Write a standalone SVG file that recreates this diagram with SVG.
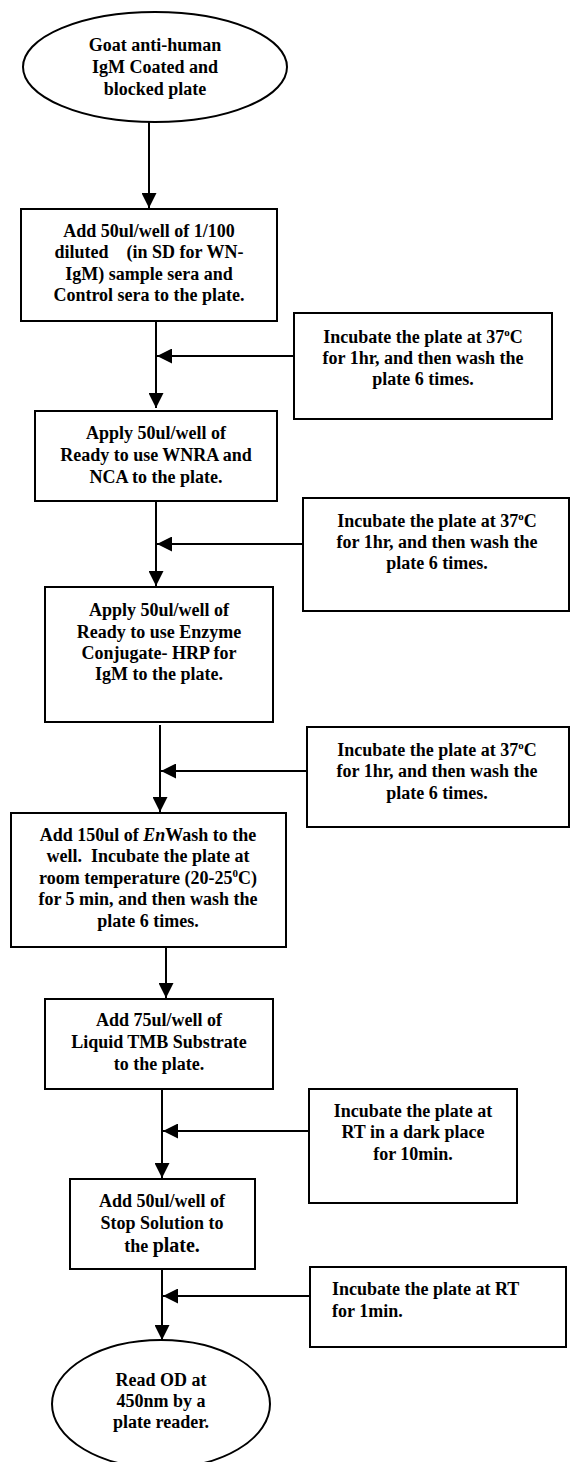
<svg xmlns="http://www.w3.org/2000/svg" width="570" height="1462" viewBox="0 0 570 1462">
<defs>
<style>
.shape{fill:#fff;stroke:#000;stroke-width:2}
.t{font-family:"Liberation Serif","Times New Roman",serif;font-weight:bold;font-size:18px;fill:#000;text-anchor:middle}
.l{text-anchor:start}
.c{stroke:#000;stroke-width:2;fill:none;marker-end:url(#ah)}
</style>
<marker id="ah" markerUnits="userSpaceOnUse" markerWidth="16" markerHeight="15" refX="15" refY="7.5" orient="auto">
<path d="M0,0 L15,7.5 L0,15 z" fill="#000"/>
</marker>
</defs>
<rect width="570" height="1462" fill="#fff"/>
<g id="connectors">
<path class="c" d="M149,122 V208"/>
<path class="c" d="M156,321 V408"/>
<path class="c" d="M294,356 H157"/>
<path class="c" d="M156,501 V586"/>
<path class="c" d="M303,544 H157"/>
<path class="c" d="M160,725 V812"/>
<path class="c" d="M307,771 H161"/>
<path class="c" d="M166,947 V998"/>
<path class="c" d="M162,1089 V1178"/>
<path class="c" d="M309,1131 H163"/>
<path class="c" d="M162,1269 V1340"/>
<path class="c" d="M310,1296 H163"/>
</g>
<g id="start">
<ellipse class="shape" cx="155" cy="67" rx="132" ry="55"/>
<text class="t" x="155" y="51">Goat anti-human</text>
<text class="t" x="155" y="73">IgM Coated and</text>
<text class="t" x="155" y="95">blocked plate</text>
</g>
<g id="step1">
<rect class="shape" x="21" y="209" width="256" height="112"/>
<text class="t" x="149" y="237">Add 50ul/well of 1/100</text>
<text class="t" x="149" y="258" xml:space="preserve">diluted    (in SD for WN-</text>
<text class="t" x="149" y="280">IgM) sample sera and</text>
<text class="t" x="149" y="301">Control sera to the plate.</text>
</g>
<g id="incubate1">
<rect class="shape" x="294" y="313" width="258" height="106"/>
<text class="t" x="423" y="343">Incubate the plate at 37<tspan dy="-7" font-size="11">o</tspan><tspan dy="7">C</tspan></text>
<text class="t" x="423" y="364">for 1hr, and then wash the</text>
<text class="t" x="423" y="385">plate 6 times.</text>
</g>
<g id="step2">
<rect class="shape" x="35" y="411" width="242" height="90"/>
<text class="t" x="156" y="439">Apply 50ul/well of</text>
<text class="t" x="156" y="461">Ready to use WNRA and</text>
<text class="t" x="156" y="483">NCA to the plate.</text>
</g>
<g id="incubate2">
<rect class="shape" x="303" y="498" width="266" height="113"/>
<text class="t" x="437" y="527">Incubate the plate at 37<tspan dy="-7" font-size="11">o</tspan><tspan dy="7">C</tspan></text>
<text class="t" x="437" y="548">for 1hr, and then wash the</text>
<text class="t" x="437" y="569">plate 6 times.</text>
</g>
<g id="step3">
<rect class="shape" x="45" y="587" width="228" height="135"/>
<text class="t" x="159" y="616">Apply 50ul/well of</text>
<text class="t" x="159" y="638">Ready to use Enzyme</text>
<text class="t" x="159" y="659">Conjugate- HRP for</text>
<text class="t" x="159" y="680">IgM to the plate.</text>
</g>
<g id="incubate3">
<rect class="shape" x="307" y="727" width="262" height="100"/>
<text class="t" x="437" y="756">Incubate the plate at 37<tspan dy="-7" font-size="11">o</tspan><tspan dy="7">C</tspan></text>
<text class="t" x="437" y="777">for 1hr, and then wash the</text>
<text class="t" x="437" y="799">plate 6 times.</text>
</g>
<g id="step4">
<rect class="shape" x="11" y="813" width="275" height="134"/>
<text class="t" x="148" y="841">Add 150ul of <tspan font-style="italic">En</tspan>Wash to the</text>
<text class="t" x="148" y="862" xml:space="preserve">well.  Incubate the plate at</text>
<text class="t" x="148" y="884">room temperature (20-25<tspan dy="-7" font-size="11">0</tspan><tspan dy="7">C)</tspan></text>
<text class="t" x="148" y="905">for 5 min, and then wash the</text>
<text class="t" x="148" y="927">plate 6 times.</text>
</g>
<g id="step5">
<rect class="shape" x="45" y="999" width="228" height="90"/>
<text class="t" x="159" y="1026">Add 75ul/well of</text>
<text class="t" x="159" y="1048">Liquid TMB Substrate</text>
<text class="t" x="159" y="1070">to the plate.</text>
</g>
<g id="incubate4">
<rect class="shape" x="309" y="1089" width="208" height="114"/>
<text class="t" x="413" y="1117">Incubate the plate at</text>
<text class="t" x="413" y="1138">RT in a dark place</text>
<text class="t" x="413" y="1160">for 10min.</text>
</g>
<g id="step6">
<rect class="shape" x="70" y="1179" width="185" height="90"/>
<text class="t" x="162" y="1207">Add 50ul/well of</text>
<text class="t" x="162" y="1229">Stop Solution to</text>
<text class="t" x="162" y="1252">the <tspan font-size="20">plate.</tspan></text>
</g>
<g id="incubate5">
<rect class="shape" x="310" y="1267" width="256" height="80"/>
<text class="t l" x="332" y="1295">Incubate the plate at RT</text>
<text class="t l" x="332" y="1317">for 1min.</text>
</g>
<g id="end">
<ellipse class="shape" cx="161" cy="1404" rx="109" ry="64"/>
<text class="t" x="161" y="1386">Read OD at</text>
<text class="t" x="161" y="1407">450nm by a</text>
<text class="t" x="161" y="1428">plate reader.</text>
</g>
</svg>
